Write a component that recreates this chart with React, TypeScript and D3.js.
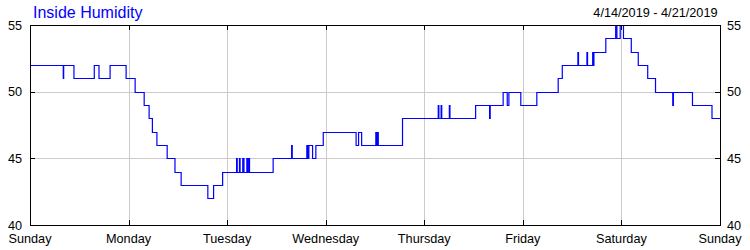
import React from "react";
import * as d3 from "d3";

const title = "Inside Humidity";
const dateRange = "4/14/2019 - 4/21/2019";
const dayLabels = ["Sunday", "Monday", "Tuesday", "Wednesday", "Thursday", "Friday", "Saturday", "Sunday"];
const yTicks = [40, 45, 50, 55];

// hours since Sunday 00:00, humidity (%) from that moment on (step data)
const hours = [
  0, 8.1, 8.2, 10.7, 15.65, 16.8, 19.5, 23.4, 25.6, 27.8, 29.0, 29.8, 30.9, 33.4, 35.3, 36.8,
  43.3, 44.7, 46.9,
  50.3, 50.45, 51.0, 51.15, 51.8, 52.1, 52.8, 53.0, 53.3, 53.45,
  59.2, 63.7, 63.85, 67.4, 67.6, 67.9, 68.8, 69.6, 71.4,
  79.4, 80.0, 80.75, 84.2, 84.4, 84.6, 84.8, 90.7,
  99.4, 99.55, 100.1, 100.25, 102.1, 102.25, 108.5, 111.9, 112.05,
  115.2, 116.2, 116.6, 119.5, 123.4, 128.6, 129.6,
  133.4, 133.55, 135.6, 135.75, 137.0, 137.2, 137.3, 140.2,
  142.6, 142.9, 143.7, 144.5, 146.4, 148.1, 150.4, 152.3,
  156.5, 156.65, 161.3, 166.05, 168,
];
const humidity = [
  52, 51, 52, 51, 52, 51, 52, 51, 50, 49, 48, 47, 46, 45, 44, 43,
  42, 43, 44,
  45, 44, 45, 44, 45, 44, 45, 44, 45, 44,
  45, 46, 45, 46, 45, 46, 45, 46, 47,
  46, 47, 46, 47, 46, 47, 46, 48,
  49, 48, 49, 48, 49, 48, 49, 48, 49,
  50, 49, 50, 49, 50, 51, 52,
  53, 52, 53, 52, 53, 52, 53, 54,
  55, 54, 55, 54, 53, 52, 51, 50,
  49, 50, 49, 48, 48,
];

const W = 750, H = 250;
const L = 30, R = 720, T = 25, B = 225;
const font = "'Liberation Sans', Arial, sans-serif";

export default function App() {
  const x = d3.scaleLinear().domain([0, 168]).range([L, R]);
  const y = d3.scaleLinear().domain([40, 55]).range([B, T]);
  const pts = hours.map((h, i) => [h, humidity[i]] as [number, number]);
  const line = d3
    .line<[number, number]>()
    .x((d) => x(d[0]))
    .y((d) => Math.round(y(d[1])) + 0.5)
    .curve(d3.curveStepAfter);
  const px = (v: number) => Math.round(v) + 0.5;
  const days = d3.range(0, 8).map((d) => d * 24);

  return (
    <svg width={W} height={H} style={{ position: "absolute", left: 0, top: 0, background: "#fff" }}>
      <rect x={0} y={0} width={W} height={H} fill="#fff" />
      {days.slice(1, -1).map((d) => (
        <line key={"gx" + d} x1={px(x(d))} x2={px(x(d))} y1={T} y2={B} stroke="#cccccc" strokeWidth={1} />
      ))}
      {yTicks.slice(1, -1).map((v) => (
        <line key={"gy" + v} x1={L} x2={R} y1={px(y(v))} y2={px(y(v))} stroke="#cccccc" strokeWidth={1} />
      ))}
      <path d={line(pts) || ""} fill="none" stroke="#0000ff" strokeWidth={1.2} />
      <rect x={L + 0.5} y={T + 0.5} width={R - L} height={B - T} fill="none" stroke="#000" strokeWidth={1} />
      {days.slice(1, -1).map((d) => (
        <g key={"tx" + d}>
          <line x1={px(x(d))} x2={px(x(d))} y1={T} y2={T + 5} stroke="#000" />
          <line x1={px(x(d))} x2={px(x(d))} y1={B - 5} y2={B} stroke="#000" />
        </g>
      ))}
      {yTicks.slice(1, -1).map((v) => (
        <g key={"ty" + v}>
          <line x1={L} x2={L + 5} y1={px(y(v))} y2={px(y(v))} stroke="#000" />
          <line x1={R - 5} x2={R} y1={px(y(v))} y2={px(y(v))} stroke="#000" />
        </g>
      ))}
      {yTicks.map((v) => (
        <g key={"yl" + v} fontFamily={font} fontSize={12.7} fill="#000">
          <text x={22} y={y(v) + 4.6} textAnchor="end">{v}</text>
          <text x={727} y={y(v) + 4.6} textAnchor="start">{v}</text>
        </g>
      ))}
      {days.map((d, i) => (
        <text key={"xl" + i} x={x(d)} y={242.5} textAnchor="middle" fontFamily={font} fontSize={12.7} fill="#000">
          {dayLabels[i]}
        </text>
      ))}
      <text x={33} y={17.5} fontFamily={font} fontSize={16} fill="#0000ff">{title}</text>
      <text x={717.5} y={16.7} textAnchor="end" fontFamily={font} fontSize={12.7} fill="#000">{dateRange}</text>
    </svg>
  );
}
